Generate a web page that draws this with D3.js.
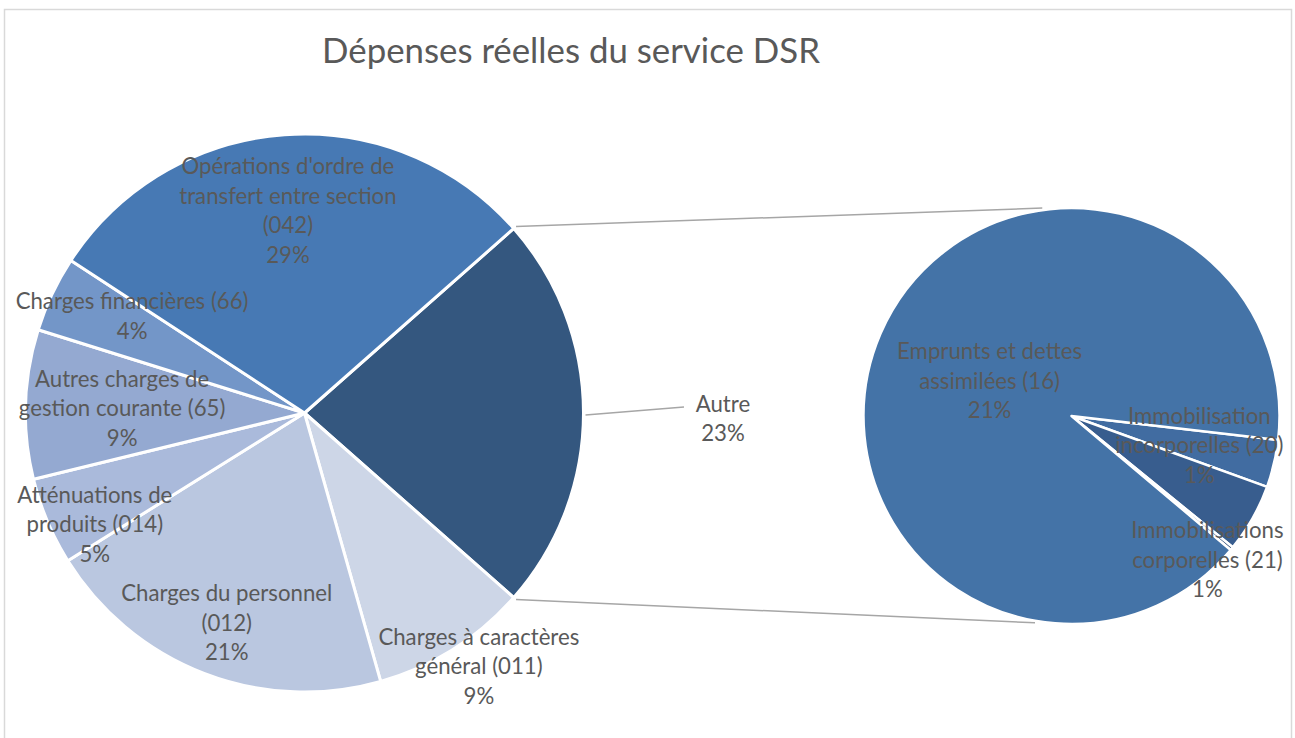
<!DOCTYPE html>
<html lang="fr">
<head>
<meta charset="utf-8">
<script src="https://cdn.jsdelivr.net/npm/d3@7"></script>
<style>
  html, body { margin: 0; padding: 0; background: #ffffff; }
  svg { display: block; }
  text { font-family: Lato, "Open Sans", "Noto Sans", sans-serif; fill: #595959; }
</style>
</head>
<body>
<svg id="chart" width="1295" height="738"></svg>
<script>
// ---- Data (percent of total real expenses) ----
const chartTitle = "Dépenses réelles du service DSR";

// Main pie, clockwise from the "Autre" slice
const mainCategories = [
  "Autre",
  "Charges à caractères général (011)",
  "Charges du personnel (012)",
  "Atténuations de produits (014)",
  "Autres charges de gestion courante (65)",
  "Charges financières (66)",
  "Opérations d'ordre de transfert entre section (042)"
];
const mainLabelLines = [
  ["Autre"],
  ["Charges à caractères", "général (011)"],
  ["Charges du personnel", "(012)"],
  ["Atténuations de", "produits (014)"],
  ["Autres charges de", "gestion courante (65)"],
  ["Charges financières (66)"],
  ["Opérations d'ordre de", "transfert entre section", "(042)"]
];
// values of the detailed categories (Autre is the sum of the secondary pie)
const mainValues = [null, 9.1, 20.52, 5.06, 8.64, 4.39, 29.29];

// Secondary pie: breakdown of "Autre", clockwise
const subCategories = [
  "Immobilisation incorporelles (20)",
  "Immobilisations corporelles (21)",
  "Immobilisations en cours (23)",
  "Emprunts et dettes assimilées (16)"
];
const subLabelLines = [
  ["Immobilisation", "incorporelles (20)"],
  ["Immobilisations", "corporelles (21)"],
  null,
  ["Emprunts et dettes", "assimilées (16)"]
];
const subValues = [0.85, 1.23, 0.06, 20.86];

// ---- Styling ----
const mainColors = ["#34577f", "#cdd6e7", "#bac7e0", "#aabadb", "#94a9d1", "#7396c8", "#4779b4"];
const subColors = ["#416ca1", "#385d8e", "#2c4c78", "#4473a7"];
const deg = Math.PI / 180;

const svg = d3.select("#chart");

// outer frame
svg.append("rect")
  .attr("x", 4.5).attr("y", 9.5)
  .attr("width", 1287).attr("height", 760)
  .attr("fill", "none").attr("stroke", "#d9d9d9").attr("stroke-width", 1.5);

// scale a font size so that a sample string reaches a given width
function fitSize(sample, width, base) {
  const t = svg.append("text").style("font-size", base + "px").text(sample);
  const w = t.node().getComputedTextLength();
  t.remove();
  return base * width / w;
}

// title
svg.append("text")
  .attr("x", 571).attr("y", 63)
  .attr("text-anchor", "middle")
  .style("font-size", fitSize(chartTitle, 498, 30).toFixed(2) + "px")
  .text(chartTitle);

// ---- Geometry ----
const main = { cx: 304.5, cy: 413, r: 279 };
const sub = { cx: 1071.5, cy: 416, r: 208 };

const autreValue = d3.sum(subValues);
const values = mainValues.map((v, i) => i === 0 ? autreValue : v);
const total = d3.sum(values);
const pct = v => Math.round(v / total * 100) + "%";

// "Autre" is centred on the right-hand side of the main pie
const autreSpan = autreValue / total * 2 * Math.PI;
const mainStart = Math.PI / 2 - autreSpan / 2;

const mainPie = d3.pie().sort(null).value(d => d)
  .startAngle(mainStart).endAngle(mainStart + 2 * Math.PI);
const mainArcs = mainPie(values);

const subStart = 96.6 * deg;
const subPie = d3.pie().sort(null).value(d => d)
  .startAngle(subStart).endAngle(subStart + 2 * Math.PI);
const subArcs = subPie(subValues);

const polar = (c, a, r) => [c.cx + r * Math.sin(a), c.cy - r * Math.cos(a)];

// ---- Connector lines between the two pies ----
const autreArc = mainArcs[0];
const connectors = [
  [polar(main, autreArc.startAngle, main.r + 3), polar(sub, -8 * deg, sub.r + 2)],
  [polar(main, autreArc.endAngle, main.r + 3), polar(sub, 190 * deg, sub.r + 2)]
];
svg.append("g").selectAll("line").data(connectors).join("line")
  .attr("x1", d => d[0][0]).attr("y1", d => d[0][1])
  .attr("x2", d => d[1][0]).attr("y2", d => d[1][1])
  .attr("stroke", "#a6a6a6").attr("stroke-width", 1.5);

// ---- Main pie ----
const mainArcGen = d3.arc().innerRadius(0).outerRadius(main.r);
svg.append("g").attr("transform", `translate(${main.cx},${main.cy})`)
  .selectAll("path").data(mainArcs).join("path")
  .attr("d", mainArcGen)
  .attr("fill", (d, i) => mainColors[i])
  .attr("stroke", "#ffffff").attr("stroke-width", 3).attr("stroke-linejoin", "round");

// ---- Secondary pie ----
const subArcGen = d3.arc().innerRadius(0).outerRadius(sub.r);
svg.append("g").attr("transform", `translate(${sub.cx},${sub.cy})`)
  .selectAll("path").data(subArcs).join("path")
  .attr("d", subArcGen)
  .attr("fill", (d, i) => subColors[i])
  .attr("stroke", "#ffffff").attr("stroke-width", 2.5).attr("stroke-linejoin", "round");

// ---- Labels ----
const fontSize = fitSize("Charges financières (66)", 233, 18);
const lineH = 29.5;

// label placement: [angle shift (deg), radius factor]
const mainLabelPos = [[0.7, 1.5], [-2.4, 1.1], [-0.7, 0.8], [-5.0, 0.85], [-0.2, 0.654], [4.25, 0.71], [-0.55, 0.73]];
const subLabelPos = [[-0.55, 0.63], [17.0, 0.95], null, [0.35, 0.43]];

function drawLabel(c, arc, lines, pos, value) {
  const mid = (arc.startAngle + arc.endAngle) / 2 + pos[0] * deg;
  const [x, y] = polar(c, mid, c.r * pos[1]);
  const all = lines.concat([pct(value)]);
  const g = svg.append("text")
    .attr("text-anchor", "middle")
    .style("font-size", fontSize.toFixed(2) + "px");
  all.forEach((t, i) => {
    g.append("tspan")
      .attr("x", x)
      .attr("y", y + (i - (all.length - 1) / 2) * lineH)
      .attr("dominant-baseline", "central")
      .text(t);
  });
}

mainArcs.forEach((a, i) => drawLabel(main, a, mainLabelLines[i], mainLabelPos[i], values[i]));
subArcs.forEach((a, i) => {
  if (subLabelLines[i]) drawLabel(sub, a, subLabelLines[i], subLabelPos[i], subValues[i]);
});

// leader line for "Autre"
{
  const p0 = polar(main, Math.PI / 2, main.r + 2);
  svg.append("line")
    .attr("x1", p0[0]).attr("y1", p0[1] + 2)
    .attr("x2", 684).attr("y2", 407)
    .attr("stroke", "#a6a6a6").attr("stroke-width", 1.5);
}
</script>
</body>
</html>
